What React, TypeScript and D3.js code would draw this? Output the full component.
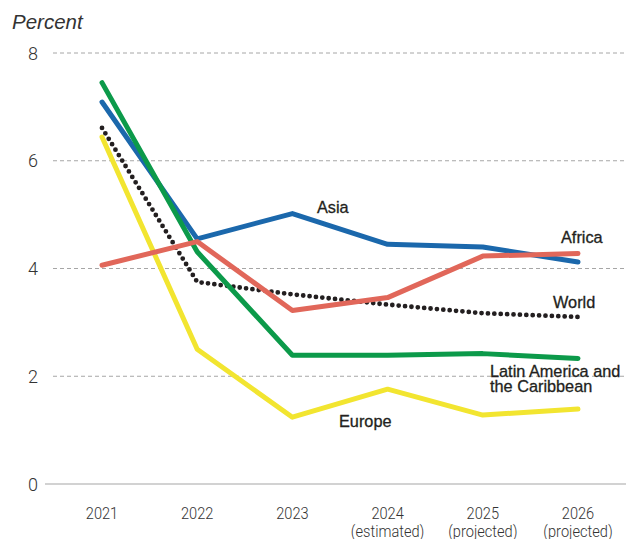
import React from "react";
import * as d3 from "d3";

const years = ["2021", "2022", "2023", "2024", "2025", "2026"];
const subLabels = ["", "", "", "(estimated)", "(projected)", "(projected)"];
const yTicks = [0, 2, 4, 6, 8];

const asia = [7.09, 4.55, 5.02, 4.45, 4.4, 4.12];
const africa = [4.06, 4.5, 3.22, 3.46, 4.23, 4.28];
const world = [6.61, 3.75, 3.52, 3.33, 3.17, 3.1];
const latam = [7.45, 4.31, 2.39, 2.39, 2.42, 2.33];
const europe = [6.44, 2.5, 1.24, 1.76, 1.28, 1.39];

const W = 626;
const H = 539;

export default function App() {
  const x = d3.scalePoint<string>().domain(years).range([102, 578]);
  const y = d3.scaleLinear().domain([0, 8]).range([484, 53]);
  const line = d3
    .line<number>()
    .x((_, i) => x(years[i]) as number)
    .y((d) => y(d));

  const series = [
    { name: "Europe", data: europe, color: "#f2e530", dotted: false },
    { name: "World", data: world, color: "#231f20", dotted: true },
    { name: "Asia", data: asia, color: "#1b68ac", dotted: false },
    { name: "Latin America", data: latam, color: "#0c9a4a", dotted: false },
    { name: "Africa", data: africa, color: "#e1675a", dotted: false },
  ];

  const labelFont = "'Liberation Sans', Arial, Helvetica, sans-serif";
  const tickFont = "Roboto, 'Liberation Sans', Arial, sans-serif";

  return (
    <svg
      width={W}
      height={H}
      style={{ position: "absolute", left: 0, top: 0, background: "#fff" }}
    >
      <text
        x={12}
        y={29}
        fontFamily={labelFont}
        fontStyle="italic"
        fontSize={20.5}
        fill="#333"
      >
        Percent
      </text>
      {yTicks.map((t) => (
        <g key={t}>
          {t === 0 ? (
            <line x1={45} x2={626} y1={y(t)} y2={y(t)} stroke="#a6a6a6" strokeWidth={1.2} />
          ) : (
            <line
              x1={53}
              x2={626}
              y1={y(t)}
              y2={y(t)}
              stroke="#a6a6a6"
              strokeWidth={1}
              strokeDasharray="4 3"
            />
          )}
          <text
            x={38}
            y={y(t) + 6.5}
            textAnchor="end"
            fontFamily={tickFont}
            fontWeight={300}
            fontSize={18}
            fill="#333"
          >
            {t}
          </text>
        </g>
      ))}
      {years.map((yr, i) => (
        <g key={yr} transform={`translate(${x(yr)},0) scale(0.86,1)`}>
          <text
            x={0}
            y={519}
            textAnchor="middle"
            fontFamily={tickFont}
            fontWeight={300}
            fontSize={17}
            fill="#333"
          >
            {yr}
          </text>
          {subLabels[i] && (
            <text
              x={0}
              y={537}
              textAnchor="middle"
              fontFamily={tickFont}
              fontWeight={300}
              fontSize={17}
              fill="#333"
            >
              {subLabels[i]}
            </text>
          )}
        </g>
      ))}
      {series.map((s) => (
        <path
          key={s.name}
          d={line(s.data) || ""}
          fill="none"
          stroke={s.color}
          strokeWidth={s.dotted ? 4.8 : 5}
          strokeLinecap="round"
          strokeLinejoin="round"
          strokeDasharray={s.dotted ? "0 6.4" : undefined}
        />
      ))}
      <g fontFamily={labelFont} fontSize={16.3} fill="#231f20" stroke="#231f20" strokeWidth={0.3}>
        <text x={317} y={213}>Asia</text>
        <text x={561} y={243}>Africa</text>
        <text x={553} y={308}>World</text>
        <text x={490} y={377}>Latin America and</text>
        <text x={490} y={392}>the Caribbean</text>
        <text x={339} y={427}>Europe</text>
      </g>
    </svg>
  );
}
